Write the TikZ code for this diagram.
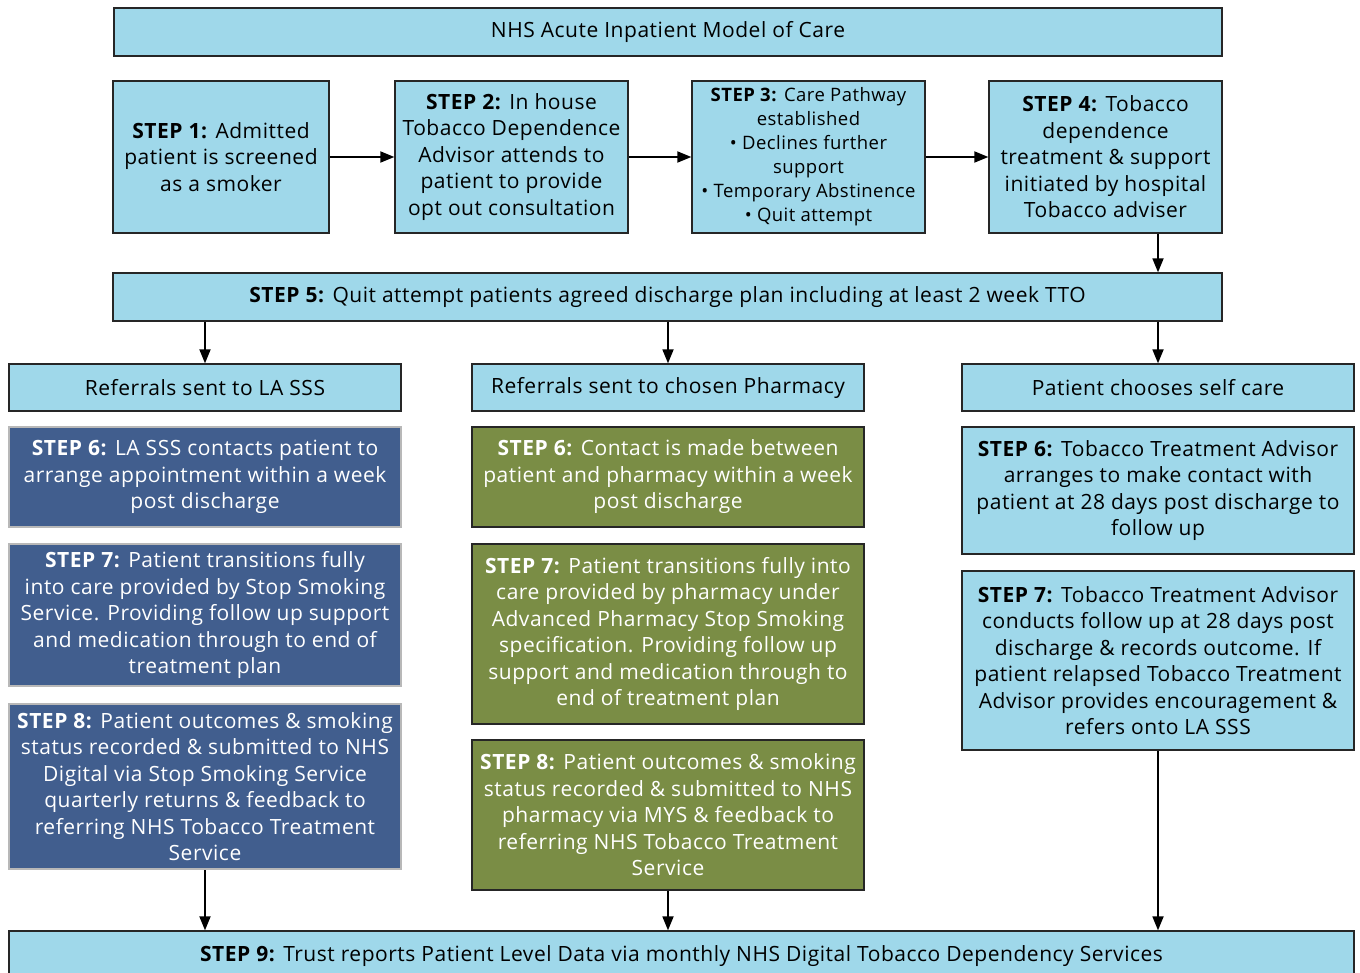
\documentclass[tikz,border=0pt]{standalone}
\usepackage{fontspec}
\setmainfont[LetterSpace=2.5]{Open Sans}
\usepackage{xcolor}
\usetikzlibrary{arrows.meta}
\definecolor{paleblue}{HTML}{9FD8EA}
\definecolor{slateblue}{HTML}{415E8E}
\definecolor{olivegreen}{HTML}{7A8D45}
\definecolor{edgegrey}{HTML}{B8B8B8}
\tikzset{
  box/.style={draw=black!85, line width=1.3pt, align=center, inner sep=0pt,
              font=\fontsize{21}{26.5}\selectfont},
  pale/.style={box, fill=paleblue, text=black},
  sssbox/.style={box, fill=slateblue, draw=edgegrey, line width=2pt, text=white,
                 minimum width=392pt},
  pharmbox/.style={box, fill=olivegreen, text=white, minimum width=392pt},
  selfbox/.style={pale, minimum width=392pt},
  flow/.style={-{Triangle[length=14pt,width=11pt]}, line width=1.8pt},
}

\begin{document}
\begin{tikzpicture}[x=1pt,y=-1pt]
\useasboundingbox (0,0) rectangle (1360,973);
\clip (0,0) rectangle (1360,973);

% top row
\node[pale, minimum width=1108pt, minimum height=48pt] (model) at (668,32)
  {NHS Acute Inpatient Model of Care};
\node[pale, minimum width=216pt, minimum height=152pt] (step1) at (221,157)
  {\textbf{STEP 1:} Admitted\\patient is screened\\as a smoker};
\node[pale, minimum width=233pt, minimum height=152pt] (step2) at (511.5,157)
  {\textbf{STEP 2:} In house\\Tobacco Dependence\\Advisor attends to\\patient to provide\\opt out consultation};
\node[pale, minimum width=233pt, minimum height=152pt,
      font=\fontsize{18.5}{24}\selectfont] (step3) at (808.5,157)
  {\textbf{STEP 3:} Care Pathway\\established\\• Declines further\\support\\• Temporary Abstinence\\• Quit attempt};
\node[pale, minimum width=233pt, minimum height=152pt] (step4) at (1105.5,157)
  {\textbf{STEP 4:} Tobacco\\dependence\\treatment \& support\\initiated by hospital\\Tobacco adviser};
\node[pale, minimum width=1109pt, minimum height=48pt] (step5) at (667.5,297)
  {\textbf{STEP 5:} Quit attempt patients agreed discharge plan including at least 2 week TTO};

% three routes
\node[selfbox, minimum height=47pt] (sssref) at (205,387.5) {Referrals sent to LA SSS};
\node[selfbox, minimum height=47pt] (pharmref) at (668,387.5) {Referrals sent to chosen Pharmacy};
\node[selfbox, minimum height=47pt] (selfref) at (1158,387.5) {Patient chooses self care};

\node[sssbox, minimum height=100pt] (sss6) at (205,477)
  {\textbf{STEP 6:} LA SSS contacts patient to\\arrange appointment within a week\\post discharge};
\node[sssbox, minimum height=142pt] (sss7) at (205,615)
  {\textbf{STEP 7:} Patient transitions fully\\into care provided by Stop Smoking\\Service. Providing follow up support\\and medication through to end of\\treatment plan};
\node[sssbox, minimum height=165pt] (sss8) at (205,786.5)
  {\textbf{STEP 8:} Patient outcomes \& smoking\\status recorded \& submitted to NHS\\Digital via Stop Smoking Service\\quarterly returns \& feedback to\\referring NHS Tobacco Treatment\\Service};

\node[pharmbox, minimum height=100pt] (pharm6) at (668,477)
  {\textbf{STEP 6:} Contact is made between\\patient and pharmacy within a week\\post discharge};
\node[pharmbox, minimum height=180pt] (pharm7) at (668,634)
  {\textbf{STEP 7:} Patient transitions fully into\\care provided by pharmacy under\\Advanced Pharmacy Stop Smoking\\specification. Providing follow up\\support and medication through to\\end of treatment plan};
\node[pharmbox, minimum height=150pt] (pharm8) at (668,815)
  {\textbf{STEP 8:} Patient outcomes \& smoking\\status recorded \& submitted to NHS\\pharmacy via MYS \& feedback to\\referring NHS Tobacco Treatment\\Service};

\node[selfbox, minimum height=127pt] (self6) at (1158,490.5)
  {\textbf{STEP 6:} Tobacco Treatment Advisor\\arranges to make contact with\\patient at 28 days post discharge to\\follow up};
\node[selfbox, minimum height=179pt] (self7) at (1158,660.5)
  {\textbf{STEP 7:} Tobacco Treatment Advisor\\conducts follow up at 28 days post\\discharge \& records outcome. If\\patient relapsed Tobacco Treatment\\Advisor provides encouragement \&\\refers onto LA SSS};

\node[pale, minimum width=1345pt, minimum height=50pt] (step9) at (681.5,956)
  {\textbf{STEP 9:} Trust reports Patient Level Data via monthly NHS Digital Tobacco Dependency Services};

% connectors
\draw[flow] (step1) -- (step2);
\draw[flow] (step2) -- (step3);
\draw[flow] (step3) -- (step4);
\draw[flow] (step4.south -| selfref.north) -- (step5.north -| selfref.north);
\draw[flow] (step5.south -| sssref.north) -- (sssref.north);
\draw[flow] (step5.south -| pharmref.north) -- (pharmref.north);
\draw[flow] (step5.south -| selfref.north) -- (selfref.north);
\draw[flow] (sss8.south) -- (sss8.south |- step9.north);
\draw[flow] (pharm8.south) -- (pharm8.south |- step9.north);
\draw[flow] (self7.south) -- (self7.south |- step9.north);
\end{tikzpicture}
\end{document}
